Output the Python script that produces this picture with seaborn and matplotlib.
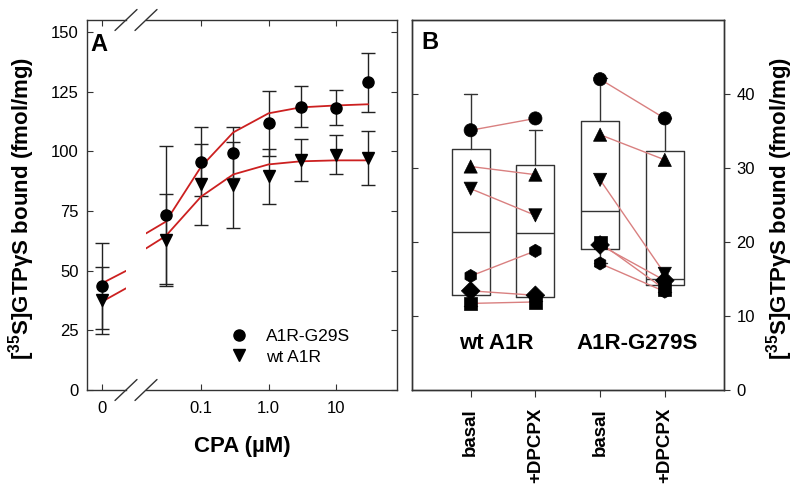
import numpy as np
import pandas as pd
import matplotlib
matplotlib.use('Agg')
import matplotlib.pyplot as plt
from matplotlib.lines import Line2D
import seaborn as sns

# ---- panel A: CPA concentration-response ----
cpa_conc = [0.03, 0.1, 0.3, 1.0, 3.0, 10.0, 30.0]
g29s_mean = [73.3, 95.7, 99.4, 111.7, 118.7, 118.3, 128.9]
g29s_err = [29.0, 14.6, 10.6, 13.7, 8.5, 7.2, 12.3]
wt_mean = [62.8, 86.1, 86.0, 89.6, 96.4, 98.6, 97.2]
wt_err = [19.2, 17.0, 18.0, 11.5, 8.8, 8.2, 11.4]
g29s_basal, g29s_basal_err = 43.5, 18.0
wt_basal, wt_basal_err = 37.5, 14.0

fit_conc = [0.0153, 0.03, 0.1, 0.3, 1.0, 3.0, 10.0, 30.0]
g29s_fit = [65.6, 70.5, 93.5, 107.9, 115.9, 118.4, 119.2, 119.7]
wt_fit = [59.3, 64.5, 81.0, 90.3, 94.5, 95.8, 96.2, 96.2]
zero_fit_x = [0.0, 1.0]
g29s_zero_fit = [44.7, 49.9]
wt_zero_fit = [37.0, 42.6]

# ---- panel B: basal vs DPCPX, six replicates each ----
rep_markers = ['o', '^', 'v', 'h', 'D', 's']
wt_basal_vals = [35.1, 30.2, 27.2, 15.4, 13.4, 11.7]
wt_dpcpx_vals = [36.7, 29.1, 23.6, 18.8, 12.8, 11.9]
g279s_basal_vals = [42.0, 34.5, 28.4, 17.1, 19.6, 19.9]
g279s_dpcpx_vals = [36.7, 31.1, 15.7, 13.3, 14.8, 13.6]
cat_labels = ['basal', '+DPCPX', 'basal', '+DPCPX']
group_labels = ['wt A1R', 'A1R-G279S']

box_q1 = [12.8, 12.6, 19.0, 14.15]
box_med = [21.4, 21.2, 24.2, 15.05]
box_q3 = [32.6, 30.4, 36.4, 32.3]
whisk_lo = [11.4, 12.0, 17.1, 13.25]
whisk_hi = [40.0, 35.1, 42.1, 36.7]

sns.set_style('ticks')
plt.rcParams['font.family'] = ['Liberation Sans', 'DejaVu Sans']
plt.rcParams['mathtext.fontset'] = 'custom'
plt.rcParams['mathtext.bf'] = 'Liberation Sans:bold'
plt.rcParams['mathtext.rm'] = 'Liberation Sans:bold'
plt.rcParams['mathtext.default'] = 'bf'
plt.rcParams['text.color'] = 'black'
plt.rcParams['xtick.labelcolor'] = 'black'
plt.rcParams['ytick.labelcolor'] = 'black'

spine_c = '#333333'
red = '#cc2020'
link_c = '#d98080'
tick_fs = 12
label_fs = 16
ylabel = '[$^{35}$S]GTPγS bound (fmol/mg)'

W, H = 800, 490
fig = plt.figure(figsize=(8, 4.9), dpi=100)

def px_axes(x0, x1, y0, y1):
    return fig.add_axes([x0 / W, 1 - y1 / H, (x1 - x0) / W, (y1 - y0) / H])

ax0 = px_axes(87, 126, 20, 390)
ax1 = px_axes(146, 397, 20, 390)
axb = px_axes(412, 724, 20, 390)

for ax in (ax0, ax1, axb):
    for s in ax.spines.values():
        s.set_color(spine_c)
        s.set_linewidth(1.0)

ebkw = dict(fmt='none', ecolor='#222222', elinewidth=1.0, capsize=5, capthick=1.0, zorder=2)

# zero-concentration piece
ax0.errorbar([0], [g29s_basal], yerr=[g29s_basal_err], **ebkw)
ax0.errorbar([0], [wt_basal], yerr=[wt_basal_err], **ebkw)
sns.lineplot(x=zero_fit_x, y=g29s_zero_fit, ax=ax0, color=red, lw=1.3, zorder=3)
sns.lineplot(x=zero_fit_x, y=wt_zero_fit, ax=ax0, color=red, lw=1.3, zorder=3)
ax0.plot([0], [g29s_basal], 'o', color='black', ms=8, zorder=4)
ax0.plot([0], [wt_basal], 'v', color='black', ms=8.5, zorder=4)
ax0.set_xlim(-0.625, 1.0)
ax0.set_ylim(0, 155)
ax0.set_xticks([0])
ax0.set_xticklabels(['0'])
ax0.set_yticks([0, 25, 50, 75, 100, 125, 150])
ax0.spines['right'].set_visible(False)
ax0.tick_params(direction='in', top=True, right=False, length=4, color=spine_c,
                labelsize=tick_fs, pad=6)
ax0.tick_params(axis='x', pad=8)

# concentration-response piece (log scale)
ax1.set_xscale('log')
ax1.errorbar(cpa_conc, g29s_mean, yerr=g29s_err, **ebkw)
ax1.errorbar(cpa_conc, wt_mean, yerr=wt_err, **ebkw)
sns.lineplot(x=fit_conc, y=g29s_fit, ax=ax1, color=red, lw=1.3, zorder=3)
sns.lineplot(x=fit_conc, y=wt_fit, ax=ax1, color=red, lw=1.3, zorder=3)
ax1.plot(cpa_conc, g29s_mean, 'o', color='black', ms=8, zorder=4)
ax1.plot(cpa_conc, wt_mean, 'v', color='black', ms=8.5, zorder=4)
ax1.set_xlim(0.0153, 80.2)
ax1.set_ylim(0, 155)
ax1.set_xticks([0.1, 1.0, 10])
ax1.set_xticklabels(['0.1', '1.0', '10'])
ax1.xaxis.set_minor_locator(matplotlib.ticker.NullLocator())
ax1.set_yticks([0, 25, 50, 75, 100, 125, 150])
ax1.tick_params(axis='y', labelleft=False, left=False, right=True, direction='in',
                length=4, color=spine_c)
ax1.tick_params(axis='x', direction='in', top=True, length=4, color=spine_c,
                labelsize=tick_fs, pad=8)
ax1.spines['left'].set_visible(False)

handles = [Line2D([], [], ls='none', marker='o', color='black', ms=8),
           Line2D([], [], ls='none', marker='v', color='black', ms=8.5)]
ax1.legend(handles, ['A1R-G29S', 'wt A1R'], frameon=False, fontsize=12.5,
           loc='lower left', bbox_to_anchor=(0.3, 0.05), handlelength=1.2,
           handletextpad=1.0, labelspacing=0.3, borderaxespad=0)

ax0.text(0.3, 0.965, 'A', transform=ax0.transAxes, fontsize=17, fontweight='bold',
         va='top', ha='center')

# axis break marks
for xc in (126, 146):
    for yc in (20, 390):
        fig.add_artist(Line2D([(xc - 11) / W, (xc + 11) / W],
                              [1 - (yc + 10.5) / H, 1 - (yc - 10.5) / H],
                              color=spine_c, lw=1.0))

fig.text(22 / W, 1 - 208 / H, ylabel, fontsize=label_fs, fontweight='bold',
         rotation=90, ha='center', va='center')
fig.text(242 / W, 1 - 446 / H, 'CPA (µM)', fontsize=label_fs, fontweight='bold',
         ha='center', va='center')

# ---- panel B ----
pos = np.arange(4)
stats = []
for i in range(4):
    stats.append(dict(med=box_med[i], q1=box_q1[i], q3=box_q3[i],
                      whislo=whisk_lo[i], whishi=whisk_hi[i], fliers=[]))
lkw = dict(color=spine_c, lw=1.0)
axb.bxp(stats, positions=pos, widths=0.59, capwidths=0.2, showfliers=False,
        boxprops=lkw, whiskerprops=lkw, capprops=lkw, medianprops=lkw,
        manage_ticks=False, zorder=1)

rows = []
for grp, vals_b, vals_d, offs in [('wt', wt_basal_vals, wt_dpcpx_vals, 0),
                                  ('g279s', g279s_basal_vals, g279s_dpcpx_vals, 2)]:
    for r, (vb, vd) in enumerate(zip(vals_b, vals_d)):
        rows.append(dict(pos=offs, value=vb, rep=r, pair=f'{grp}{r}'))
        rows.append(dict(pos=offs + 1, value=vd, rep=r, pair=f'{grp}{r}'))
dfb = pd.DataFrame(rows)

sns.lineplot(data=dfb, x='pos', y='value', units='pair', estimator=None,
             color=link_c, lw=1.0, ax=axb, zorder=2, legend=False)
sns.scatterplot(data=dfb, x='pos', y='value', style='rep',
                markers=dict(enumerate(rep_markers)), color='black', s=90,
                edgecolor='black', linewidth=0.5, ax=axb, zorder=3, legend=False)

axb.set_xlim(-0.907, 3.915)
axb.set_ylim(0, 50)
axb.set_xticks(pos)
axb.set_xticklabels(cat_labels, rotation=90, fontsize=13.5, fontweight='bold')
axb.set_yticks([10, 20, 30, 40])
axb.tick_params(axis='y', direction='in', left=True, right=False, labelleft=False,
                length=4, color=spine_c)
axb.tick_params(axis='x', direction='out', length=5, color=spine_c, pad=8)
axb.set_xlabel('')
axb.set_ylabel('')

# right-hand axis with outward ticks and labels
axr = axb.twinx()
axr.set_ylim(0, 50)
axr.set_yticks([0, 10, 20, 30, 40])
axr.tick_params(axis='y', direction='out', length=4, color=spine_c,
                labelsize=tick_fs, pad=5)
for s in axr.spines.values():
    s.set_color(spine_c)
    s.set_linewidth(1.0)

axb.text(0.4, 6.3, group_labels[0], ha='center', va='center', fontsize=16, fontweight='bold')
axb.text(2.57, 6.3, group_labels[1], ha='center', va='center', fontsize=16, fontweight='bold')
axb.text(0.03, 0.97, 'B', transform=axb.transAxes, fontsize=17, fontweight='bold',
         va='top', ha='left')

fig.text(780 / W, 1 - 208 / H, ylabel, fontsize=label_fs,
         fontweight='bold', rotation=90, ha='center', va='center')

fig.savefig('out.png', dpi=100)
